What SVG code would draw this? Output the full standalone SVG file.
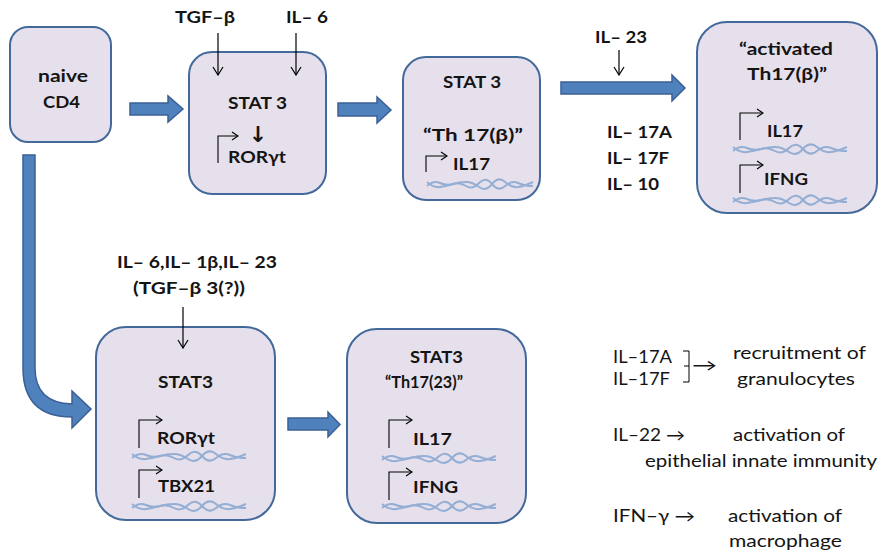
<svg xmlns="http://www.w3.org/2000/svg" width="894" height="555" viewBox="0 0 894 555">
<defs>
<style>
.box{fill:#e6e0ec;stroke:#43699b;stroke-width:2}
.b{font-family:Lato,"Open Sans","Liberation Sans",sans-serif;font-weight:700;font-size:17px;fill:#141414}
.r{font-family:Lato,"Open Sans","Liberation Sans",sans-serif;font-weight:400;font-size:16.5px;fill:#141414}
.ar{font-family:"DejaVu Sans",sans-serif;font-weight:700;font-size:22px;fill:#141414}
.blk{fill:#4f81bd;stroke:#3b6095;stroke-width:1.5}
.thin{fill:none;stroke:#000;stroke-width:1.2;marker-end:url(#ah)}
.prom{fill:none;stroke:#000;stroke-width:1.1;marker-end:url(#ah2)}
.hx{fill:none;stroke:#94aed4;stroke-width:2}
.br{fill:none;stroke:#000;stroke-width:1}
</style>
<marker id="ah" markerUnits="userSpaceOnUse" markerWidth="10" markerHeight="12" viewBox="0 0 10 12" refX="9" refY="6" orient="auto"><path d="M1,1 L9,6 L1,11" fill="none" stroke="#000" stroke-width="1.2"/></marker>
<marker id="ah2" markerUnits="userSpaceOnUse" markerWidth="8" markerHeight="10" viewBox="0 0 8 10" refX="7" refY="5" orient="auto"><path d="M1,1 L7,5 L1,9" fill="none" stroke="#000" stroke-width="1.1"/></marker>
<g id="helix">
<path class="hx" d="M0,7 Q7,1 14,4 T28,5 T42,7 T56,4 T70,5 T84,7 T98,4 T114,7"/>
<path class="hx" d="M0,3 Q7,9 14,8 T28,5 T42,3 T56,8 T70,5 T84,3 T98,8 T114,3"/>
</g>
</defs>

<g id="naive-cd4">
<rect class="box" x="10" y="27" width="101" height="115" rx="18"/>
<text class="b" x="38" y="82" textLength="50" lengthAdjust="spacingAndGlyphs">naive</text>
<text class="b" x="43" y="108" textLength="37" lengthAdjust="spacingAndGlyphs">CD4</text>
</g>

<g id="inputs-top">
<text class="b" x="175" y="23" textLength="60" lengthAdjust="spacingAndGlyphs">TGF–β</text>
<text class="b" x="286" y="23" textLength="42" lengthAdjust="spacingAndGlyphs">IL– 6</text>
</g>

<g id="stat3-ror">
<rect class="box" x="189" y="52" width="137" height="142" rx="23"/>
<text class="b" x="228" y="109" textLength="59" lengthAdjust="spacingAndGlyphs">STAT 3</text>
<text class="ar" x="258" y="142" text-anchor="middle">↓</text>
<path class="prom" d="M218,163 V136 H238"/>
<text class="b" x="228" y="163" textLength="58" lengthAdjust="spacingAndGlyphs">RORγt</text>
</g>

<g id="th17-beta">
<rect class="box" x="403" y="57" width="137" height="143" rx="23"/>
<text class="b" x="443" y="88" textLength="58" lengthAdjust="spacingAndGlyphs">STAT 3</text>
<text class="b" x="423" y="141" textLength="100" lengthAdjust="spacingAndGlyphs">“Th 17(β)”</text>
<path class="prom" d="M426,172 V156 H447"/>
<text class="b" x="453" y="170" textLength="37" lengthAdjust="spacingAndGlyphs">IL17</text>
<use href="#helix" transform="translate(427,179) scale(0.93,1)"/>
</g>

<g id="il23-label">
<text class="b" x="595" y="43" textLength="52" lengthAdjust="spacingAndGlyphs">IL– 23</text>
<text class="b" x="607" y="138" textLength="65" lengthAdjust="spacingAndGlyphs">IL– 17A</text>
<text class="b" x="607" y="164" textLength="62" lengthAdjust="spacingAndGlyphs">IL– 17F</text>
<text class="b" x="607" y="190" textLength="52" lengthAdjust="spacingAndGlyphs">IL– 10</text>
</g>

<g id="activated-th17">
<rect class="box" x="697" y="22" width="180" height="191" rx="30"/>
<text class="b" x="739" y="55" textLength="94" lengthAdjust="spacingAndGlyphs">“activated</text>
<text class="b" x="747" y="80" textLength="80" lengthAdjust="spacingAndGlyphs">Th17(β)”</text>
<path class="prom" d="M740,140 V113 H763"/>
<text class="b" x="767" y="137" textLength="36" lengthAdjust="spacingAndGlyphs">IL17</text>
<use href="#helix" transform="translate(733,144)"/>
<path class="prom" d="M740,193 V165 H763"/>
<text class="b" x="764" y="185" textLength="44" lengthAdjust="spacingAndGlyphs">IFNG</text>
<use href="#helix" transform="translate(733,195)"/>
</g>

<g id="inputs-bottom">
<text class="b" x="117" y="268" textLength="160" lengthAdjust="spacingAndGlyphs">IL– 6,IL– 1β,IL– 23</text>
<text class="b" x="133" y="294" textLength="112" lengthAdjust="spacingAndGlyphs">(TGF–β 3(?))</text>
</g>

<g id="stat3-ror-tbx">
<rect class="box" x="96" y="327" width="179" height="193" rx="30"/>
<text class="b" x="158" y="388" textLength="55" lengthAdjust="spacingAndGlyphs">STAT3</text>
<path class="prom" d="M139,448 V420 H162"/>
<text class="b" x="157" y="444" textLength="58" lengthAdjust="spacingAndGlyphs">RORγt</text>
<use href="#helix" transform="translate(132,451)"/>
<path class="prom" d="M139,498 V470 H162"/>
<text class="b" x="158" y="492" textLength="57" lengthAdjust="spacingAndGlyphs">TBX21</text>
<use href="#helix" transform="translate(132,501)"/>
</g>

<g id="th17-23">
<rect class="box" x="347" y="329" width="179" height="194" rx="30"/>
<text class="b" x="410" y="363" textLength="53" lengthAdjust="spacingAndGlyphs">STAT3</text>
<text class="b" x="385" y="388" textLength="78" lengthAdjust="spacingAndGlyphs">“Th17(23)”</text>
<path class="prom" d="M389,448 V420 H412"/>
<text class="b" x="413" y="445" textLength="39" lengthAdjust="spacingAndGlyphs">IL17</text>
<use href="#helix" transform="translate(382,453)"/>
<path class="prom" d="M389,500 V472 H412"/>
<text class="b" x="413" y="493" textLength="45" lengthAdjust="spacingAndGlyphs">IFNG</text>
<use href="#helix" transform="translate(382,501)"/>
</g>

<g id="functions">
<text class="r" x="613" y="363" textLength="59" lengthAdjust="spacingAndGlyphs">IL–17A</text>
<text class="r" x="613" y="385" textLength="57" lengthAdjust="spacingAndGlyphs">IL–17F</text>
<path class="br" d="M683,351 H689 V382 H683 M684,366 H689"/>
<text class="r" x="692" y="371" textLength="25" lengthAdjust="spacingAndGlyphs">→</text>
<text class="r" x="733" y="359" textLength="133" lengthAdjust="spacingAndGlyphs">recruitment of</text>
<text class="r" x="737" y="385" textLength="118" lengthAdjust="spacingAndGlyphs">granulocytes</text>
<text class="r" x="613" y="441" textLength="72" lengthAdjust="spacingAndGlyphs">IL–22 →</text>
<text class="r" x="733" y="441" textLength="112" lengthAdjust="spacingAndGlyphs">activation of</text>
<text class="r" x="645" y="467" textLength="232" lengthAdjust="spacingAndGlyphs">epithelial innate immunity</text>
<text class="r" x="613" y="522" textLength="82" lengthAdjust="spacingAndGlyphs">IFN–γ →</text>
<text class="r" x="728" y="522" textLength="114" lengthAdjust="spacingAndGlyphs">activation of</text>
<text class="r" x="729" y="547" textLength="113" lengthAdjust="spacingAndGlyphs">macrophage</text>
</g>

<g id="connectors">
<path class="blk" d="M130,103 H168 V96 L183,109 L168,122 V115 H130 Z"/>
<path class="blk" d="M338,103 H377 V97 L391,110 L377,123 V116 H338 Z"/>
<path class="blk" d="M561,82 H672 V75 L685,88 L672,101 V94 H561 Z"/>
<path class="blk" d="M288,418 H328 V412 L340,424.5 L328,437 V430 H288 Z"/>
<path class="blk" d="M23,155 L35,155 L35,368 Q35,403 72,404 L72,391 L91,409 L72,428 L72,417 Q23,417 23,368 Z"/>
<path class="thin" d="M218,33 V75"/>
<path class="thin" d="M296,33 V75"/>
<path class="thin" d="M619,50 V75"/>
<path class="thin" d="M183,307 V348"/>
</g>
</svg>
